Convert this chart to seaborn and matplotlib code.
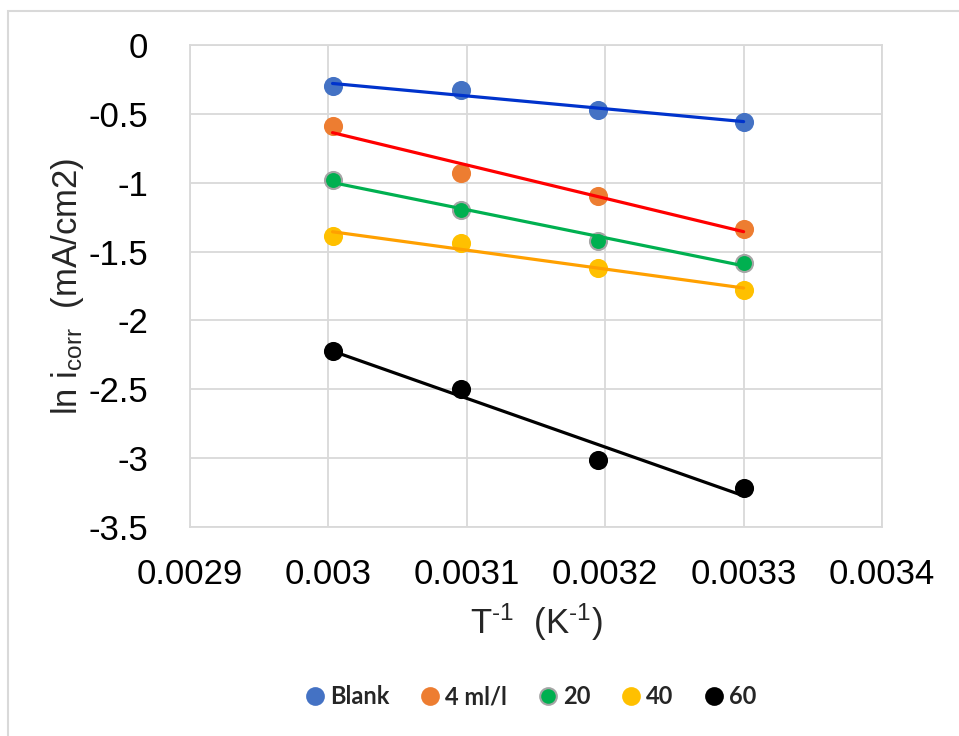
import numpy as np
import pandas as pd
import matplotlib
matplotlib.use("Agg")
import matplotlib.pyplot as plt
import seaborn as sns
from matplotlib.ticker import FuncFormatter
from matplotlib.lines import Line2D
from matplotlib.patches import Rectangle

# ---- data ----
inv_T = [0.003003, 0.003096, 0.003195, 0.003300]
series = ["Blank", "4 ml/l", "20", "40", "60"]
blank = [-0.30, -0.33, -0.47, -0.56]
c4 = [-0.59, -0.93, -1.10, -1.335]
c20 = [-0.98, -1.20, -1.42, -1.58]
c40 = [-1.39, -1.435, -1.62, -1.78]
c60 = [-2.22, -2.50, -3.01, -3.22]
x_ticks = [0.0029, 0.0030, 0.0031, 0.0032, 0.0033, 0.0034]
y_ticks = [0, -0.5, -1, -1.5, -2, -2.5, -3, -3.5]

values = [blank, c4, c20, c40, c60]
df = pd.DataFrame({
    "x": inv_T * len(series),
    "y": sum(values, []),
    "s": [s for s in series for _ in inv_T],
})

marker_colors = ["#4472C4", "#ED7D31", "#00B050", "#FFC000", "#000000"]
edge_colors = ["#4472C4", "#ED7D31", "#A5A5A5", "#FFC000", "#000000"]
line_colors = ["#0033CC", "#FF0000", "#00B050", "#FFA000", "#000000"]

sns.set_theme(style="white")
plt.rcParams["font.family"] = ["Liberation Sans", "DejaVu Sans"]
plt.rcParams["mathtext.fontset"] = "custom"
plt.rcParams["mathtext.rm"] = "Liberation Sans"
plt.rcParams["mathtext.it"] = "Liberation Sans"
plt.rcParams["axes.unicode_minus"] = False

fig = plt.figure(figsize=(9.59, 7.36), dpi=100)
ax = fig.add_axes([190 / 959, 1 - 527 / 736, (882 - 190) / 959, (527 - 45) / 736])

for i, s in enumerate(series):
    sub = df[df["s"] == s]
    sns.scatterplot(data=sub, x="x", y="y", ax=ax, color=marker_colors[i],
                    edgecolor=edge_colors[i], linewidth=1.5, s=150, zorder=3,
                    legend=False)
    sns.regplot(data=sub, x="x", y="y", ax=ax, scatter=False, ci=None,
                truncate=True, line_kws={"color": line_colors[i], "lw": 2.3,
                                         "zorder": 4})

ax.set_xlim(0.0029, 0.0034)
ax.set_ylim(-3.5, 0)
ax.set_xticks(x_ticks)
ax.set_yticks(y_ticks)
ax.xaxis.set_major_formatter(FuncFormatter(lambda v, p: f"{v:.4f}".rstrip("0")))
ax.yaxis.set_major_formatter(FuncFormatter(lambda v, p: "0" if abs(v) < 1e-9 else f"{v:g}"))
ax.grid(True, color="#D9D9D9", lw=1.3)
for sp in ax.spines.values():
    sp.set_color("#D9D9D9")
    sp.set_linewidth(1.3)
ax.tick_params(axis="both", labelsize=25, length=0, colors="black")
ax.tick_params(axis="y", pad=30)
ax.tick_params(axis="x", pad=22)
ax.set_xlabel(r"T$^{\text{-1}}$  (K$^{\text{-1}}$)", fontsize=25, labelpad=8)
ax.set_ylabel(r"ln i$_{\mathrm{corr}}$  (mA/cm2)", fontsize=25, labelpad=2)

handles = [Line2D([], [], ls="", marker="o", markersize=12,
                  markerfacecolor=marker_colors[i], markeredgecolor=edge_colors[i],
                  markeredgewidth=1.5) for i in range(len(series))]
leg = fig.legend(handles, series, loc="center", bbox_to_anchor=(531 / 959, 1 - 697 / 736),
                 ncol=5, frameon=False, handlelength=0.8, handletextpad=0.23,
                 columnspacing=1.33,
                 prop={"family": "Lato", "weight": "bold", "size": 17})

fig.patches.append(Rectangle((8 / 959, -0.1), 1.2, 0.1 + 1 - 11 / 736,
                             transform=fig.transFigure, fill=False,
                             edgecolor="#D9D9D9", lw=1.5))

fig.savefig("out.png", dpi=100)
